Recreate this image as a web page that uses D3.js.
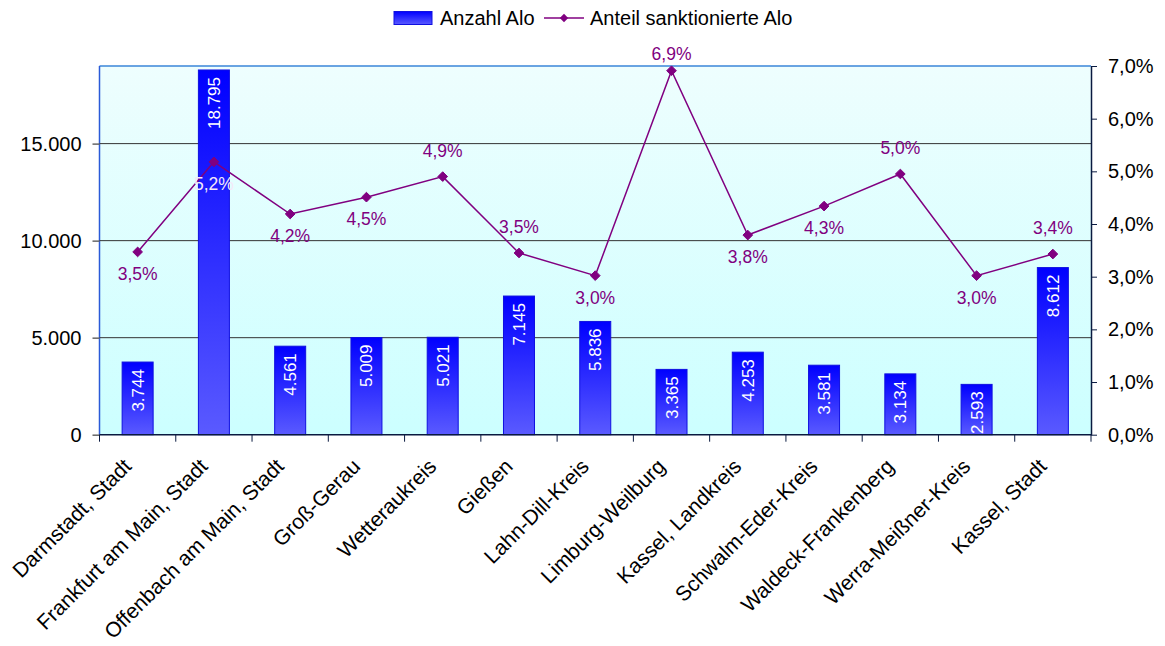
<!DOCTYPE html>
<meta charset="utf-8">
<style>
    body { margin: 0; background: #fff; }
    svg text { font-family: "Liberation Sans", Arial, sans-serif; }
</style>
<svg class="chart" width="1165" height="646"></svg>
<script src="https://cdn.jsdelivr.net/npm/d3@7"></script>
<script>
    // Arbeitslose (Anzahl) und Anteil sanktionierter Alo je Kreis
    const kreise = ["Darmstadt, Stadt", "Frankfurt am Main, Stadt", "Offenbach am Main, Stadt",
        "Groß-Gerau", "Wetteraukreis", "Gießen", "Lahn-Dill-Kreis", "Limburg-Weilburg",
        "Kassel, Landkreis", "Schwalm-Eder-Kreis", "Waldeck-Frankenberg", "Werra-Meißner-Kreis",
        "Kassel, Stadt"];
    const anzahlAlo = [3744, 18795, 4561, 5009, 5021, 7145, 5836, 3365, 4253, 3581, 3134, 2593, 8612];
    const anteilSanktioniert = [3.47, 5.18, 4.19, 4.51, 4.90, 3.45, 3.02, 6.91, 3.79, 4.34, 4.95, 3.02, 3.43];
    const labelLage = ["below", "below", "below", "below", "above", "above", "below",
        "above", "below", "below", "above", "below", "above"];
    const leftTicks = [0, 5000, 10000, 15000];
    const rightTicks = [0, 1, 2, 3, 4, 5, 6, 7];

    const svg = d3.select(".chart");
    const m = {left: 99.5, right: 1091, top: 66, bottom: 434.7};
    const purple = "#800080";
    const fs = 20;

    const x = d3.scaleBand().domain(kreise).range([m.left, m.right]);
    const yL = d3.scaleLinear().domain([0, 19000]).range([m.bottom, m.top]);
    const yR = d3.scaleLinear().domain([0, 7]).range([m.bottom, m.top]);

    const defs = svg.append("defs");
    const bg = defs.append("linearGradient").attr("id", "bg").attr("x1", 0).attr("y1", 0).attr("x2", 0).attr("y2", 1);
    bg.append("stop").attr("offset", "0%").attr("stop-color", "#eefefe");
    bg.append("stop").attr("offset", "100%").attr("stop-color", "#ccffff");
    const bg2 = defs.append("linearGradient").attr("id", "bar").attr("x1", 0).attr("y1", 0).attr("x2", 0).attr("y2", 1);
    bg2.append("stop").attr("offset", "0%").attr("stop-color", "#0000ff");
    bg2.append("stop").attr("offset", "100%").attr("stop-color", "#5a5aff");

    // plot area
    svg.append("rect")
        .attr("x", m.left).attr("y", m.top)
        .attr("width", m.right - m.left).attr("height", m.bottom - m.top)
        .attr("fill", "url(#bg)");
    svg.append("line").attr("x1", m.left).attr("x2", m.right).attr("y1", m.top).attr("y2", m.top)
        .attr("stroke", "#3a86d8").attr("stroke-width", 1.5);
    svg.append("line").attr("x1", m.left).attr("x2", m.left).attr("y1", m.top).attr("y2", m.bottom)
        .attr("stroke", "#2a5ad8").attr("stroke-width", 1.5);

    // gridlines
    svg.append("g").selectAll("line")
        .data(leftTicks.filter(d => d > 0))
        .join("line")
        .attr("x1", m.left).attr("x2", m.right)
        .attr("y1", d => yL(d)).attr("y2", d => yL(d))
        .attr("stroke", "#333").attr("stroke-width", 1);

    // bars
    const bw = 31;
    svg.append("g").selectAll("rect")
        .data(anzahlAlo)
        .join("rect")
        .attr("x", (d, i) => x(kreise[i]) + x.bandwidth() / 2 - bw / 2)
        .attr("y", d => yL(d))
        .attr("width", bw)
        .attr("height", d => m.bottom - yL(d))
        .attr("fill", "url(#bar)")
        .attr("stroke", "#1010e0").attr("stroke-width", 1);

    const fmtNum = d3.formatLocale({decimal: ",", thousands: ".", grouping: [3], currency: ["", "€"]}).format(",d");
    svg.append("g").selectAll("text")
        .data(anzahlAlo)
        .join("text")
        .attr("transform", (d, i) => `translate(${x(kreise[i]) + x.bandwidth() / 2 + 6},${yL(d) + 7}) rotate(-90)`)
        .attr("text-anchor", "end")
        .attr("fill", "#fff")
        .attr("font-size", 17)
        .text(d => fmtNum(d));

    // axes
    const axL = svg.append("g").attr("transform", `translate(${m.left},0)`)
        .call(d3.axisLeft(yL).tickValues(leftTicks).tickSize(7).tickSizeOuter(0).tickFormat(d => fmtNum(d)));
    axL.select(".domain").remove();
    axL.selectAll("line").attr("stroke", "#666").attr("stroke-width", 1.5);
    axL.selectAll("text").attr("font-size", fs).attr("fill", "#000").attr("x", -18).attr("font-family", "Liberation Sans, Arial, sans-serif");

    const axR = svg.append("g").attr("transform", `translate(${m.right},0)`)
        .call(d3.axisRight(yR).tickValues(rightTicks).tickSize(6).tickSizeOuter(0)
            .tickFormat(d => d.toFixed(1).replace(".", ",") + "%"));
    axR.select(".domain").attr("stroke", "#0a1a40").attr("stroke-width", 1.5);
    axR.selectAll("line").attr("stroke", "#0a1a40");
    axR.selectAll("text").attr("font-size", fs).attr("fill", "#000").attr("x", 17).attr("font-family", "Liberation Sans, Arial, sans-serif");

    // bottom axis with ticks at category boundaries
    const bx = svg.append("g");
    bx.append("line").attr("x1", m.left).attr("x2", m.right).attr("y1", m.bottom).attr("y2", m.bottom)
        .attr("stroke", "#0a1a40").attr("stroke-width", 1.5);
    bx.selectAll("line.tk")
        .data(kreise.concat(["_end"]))
        .join("line").attr("class", "tk")
        .attr("x1", (d, i) => m.left + i * x.bandwidth())
        .attr("x2", (d, i) => m.left + i * x.bandwidth())
        .attr("y1", m.bottom).attr("y2", m.bottom + 7)
        .attr("stroke", "#0a1a40").attr("stroke-width", 1);
    bx.selectAll("text")
        .data(kreise)
        .join("text")
        .attr("transform", d => `translate(${x(d) + x.bandwidth() / 2 - 5},${m.bottom + 33}) rotate(-45)`)
        .attr("text-anchor", "end")
        .attr("font-size", fs + 1)
        .attr("fill", "#000")
        .text(d => d);

    // line series
    const line = d3.line()
        .x((d, i) => x(kreise[i]) + x.bandwidth() / 2)
        .y(d => yR(d));
    svg.append("path")
        .datum(anteilSanktioniert)
        .attr("d", line)
        .attr("fill", "none")
        .attr("stroke", purple).attr("stroke-width", 1.5);
    svg.append("g").selectAll("path")
        .data(anteilSanktioniert)
        .join("path")
        .attr("transform", (d, i) => `translate(${x(kreise[i]) + x.bandwidth() / 2},${yR(d)})`)
        .attr("d", d3.symbol(d3.symbolDiamond2, 60))
        .attr("fill", purple).attr("stroke", purple).attr("stroke-width", 1);

    const labelY = (d, i) => labelLage[i] === "below" ? yR(d) + 28 : Math.max(60, yR(d) - 20);
    svg.append("g").selectAll("text")
        .data(anteilSanktioniert)
        .join("text")
        .attr("x", (d, i) => x(kreise[i]) + x.bandwidth() / 2)
        .attr("y", labelY)
        .attr("text-anchor", "middle")
        .attr("font-size", 17.5)
        .attr("fill", (d, i) => labelY(d, i) > yL(anzahlAlo[i]) + 6 ? "#f4e8f8" : purple)
        .text(d => d.toFixed(1).replace(".", ",") + "%");

    // legend
    const lg = svg.append("g");
    lg.append("rect").attr("x", 394).attr("y", 11.5).attr("width", 38).attr("height", 13)
        .attr("fill", "url(#bar)").attr("stroke", "#1010e0");
    lg.append("text").attr("x", 440).attr("y", 25).attr("font-size", fs).text("Anzahl Alo");
    lg.append("line").attr("x1", 544).attr("x2", 584).attr("y1", 18).attr("y2", 18)
        .attr("stroke", purple).attr("stroke-width", 1.5);
    lg.append("path").attr("transform", "translate(564,18)")
        .attr("d", d3.symbol(d3.symbolDiamond2, 45)).attr("fill", purple);
    lg.append("text").attr("x", 590).attr("y", 25).attr("font-size", fs).text("Anteil sanktionierte Alo");
</script>
